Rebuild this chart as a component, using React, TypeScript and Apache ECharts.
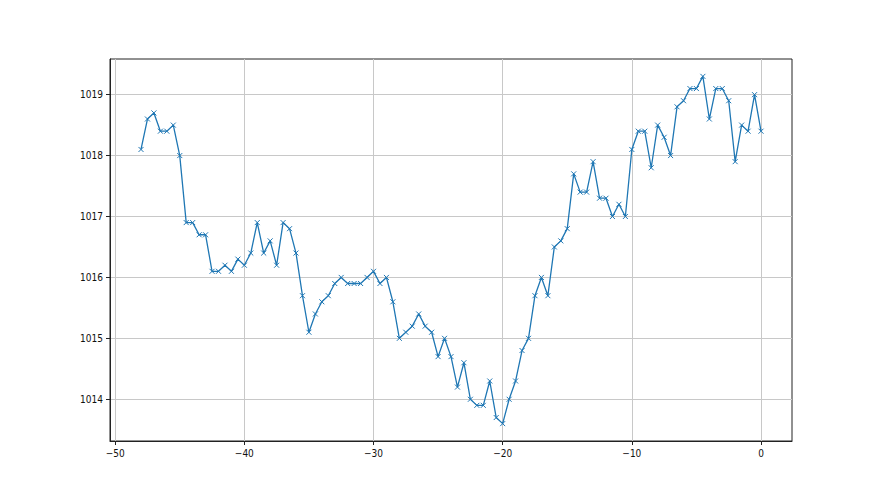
import React, { useEffect, useRef } from "react";
import * as echarts from "echarts";

const xValues: number[] = [];
for (let i = 0; i <= 96; i++) xValues.push(-48 + i * 0.5);

const pressure = [
  1018.1, 1018.6, 1018.7, 1018.4, 1018.4, 1018.5, 1018.0, 1016.9, 1016.9, 1016.7,
  1016.7, 1016.1, 1016.1, 1016.2, 1016.1, 1016.3, 1016.2, 1016.4, 1016.9, 1016.4,
  1016.6, 1016.2, 1016.9, 1016.8, 1016.4, 1015.7, 1015.1, 1015.4, 1015.6, 1015.7,
  1015.9, 1016.0, 1015.9, 1015.9, 1015.9, 1016.0, 1016.1, 1015.9, 1016.0, 1015.6,
  1015.0, 1015.1, 1015.2, 1015.4, 1015.2, 1015.1, 1014.7, 1015.0, 1014.7, 1014.2,
  1014.6, 1014.0, 1013.9, 1013.9, 1014.3, 1013.7, 1013.6, 1014.0, 1014.3, 1014.8,
  1015.0, 1015.7, 1016.0, 1015.7, 1016.5, 1016.6, 1016.8, 1017.7, 1017.4, 1017.4,
  1017.9, 1017.3, 1017.3, 1017.0, 1017.2, 1017.0, 1018.1, 1018.4, 1018.4, 1017.8,
  1018.5, 1018.3, 1018.0, 1018.8, 1018.9, 1019.1, 1019.1, 1019.3, 1018.6, 1019.1,
  1019.1, 1018.9, 1017.9, 1018.5, 1018.4, 1019.0, 1018.4,
];

const xTicks = [-50, -40, -30, -20, -10, 0];
const yTicks = [1014, 1015, 1016, 1017, 1018, 1019];

const FONT = '"Liberation Sans Narrow", "DejaVu Sans Condensed", "DejaVu Sans", sans-serif';

export default function App() {
  const ref = useRef<HTMLDivElement>(null);
  useEffect(() => {
    if (!ref.current) return;
    const chart = echarts.init(ref.current, undefined, { renderer: "svg" });
    const axisCommon = {
      type: "value" as const,
      axisLine: { show: true, onZero: false, lineStyle: { color: "#222", width: 1 } },
      axisTick: { show: true, inside: false, length: 4, lineStyle: { color: "#222", width: 1 } },
      axisLabel: { color: "#111", fontSize: 10, fontFamily: FONT },
      splitLine: { show: true, lineStyle: { color: "#c8c8c8", width: 1 } },
    };
    chart.setOption({
      animation: false,
      backgroundColor: "#ffffff",
      grid: {
        left: 110,
        right: 88,
        top: 59,
        bottom: 54,
        containLabel: false,
        show: true,
        borderColor: "#222",
        borderWidth: 1,
        backgroundColor: "transparent",
      },
      xAxis: {
        ...axisCommon,
        min: -50.4,
        max: 2.4,
        axisTick: { ...axisCommon.axisTick, customValues: xTicks },
        axisLabel: {
          ...axisCommon.axisLabel,
          margin: 7,
          customValues: xTicks,
          formatter: (v: number) => String(v).replace("-", "\u2212"),
        },
      },
      yAxis: {
        ...axisCommon,
        min: 1013.315,
        max: 1019.585,
        axisTick: { ...axisCommon.axisTick, customValues: yTicks },
        axisLabel: {
          ...axisCommon.axisLabel,
          margin: 7,
          customValues: yTicks,
          formatter: (v: number) => String(v),
        },
      },
      series: [
        {
          type: "line",
          data: xValues.map((x, i) => [x, pressure[i]]),
          lineStyle: { color: "#1f77b4", width: 1.3 },
          symbol: "path://M0,0L10,10M10,0L0,10",
          symbolSize: 5,
          showAllSymbol: true,
          itemStyle: { color: "#1f77b4", borderColor: "#1f77b4", borderWidth: 1 },
        },
      ],
    });
    return () => chart.dispose();
  }, []);
  return (
    <div
      ref={ref}
      style={{ position: "absolute", left: 0, top: 0, width: 880, height: 495 }}
    />
  );
}
